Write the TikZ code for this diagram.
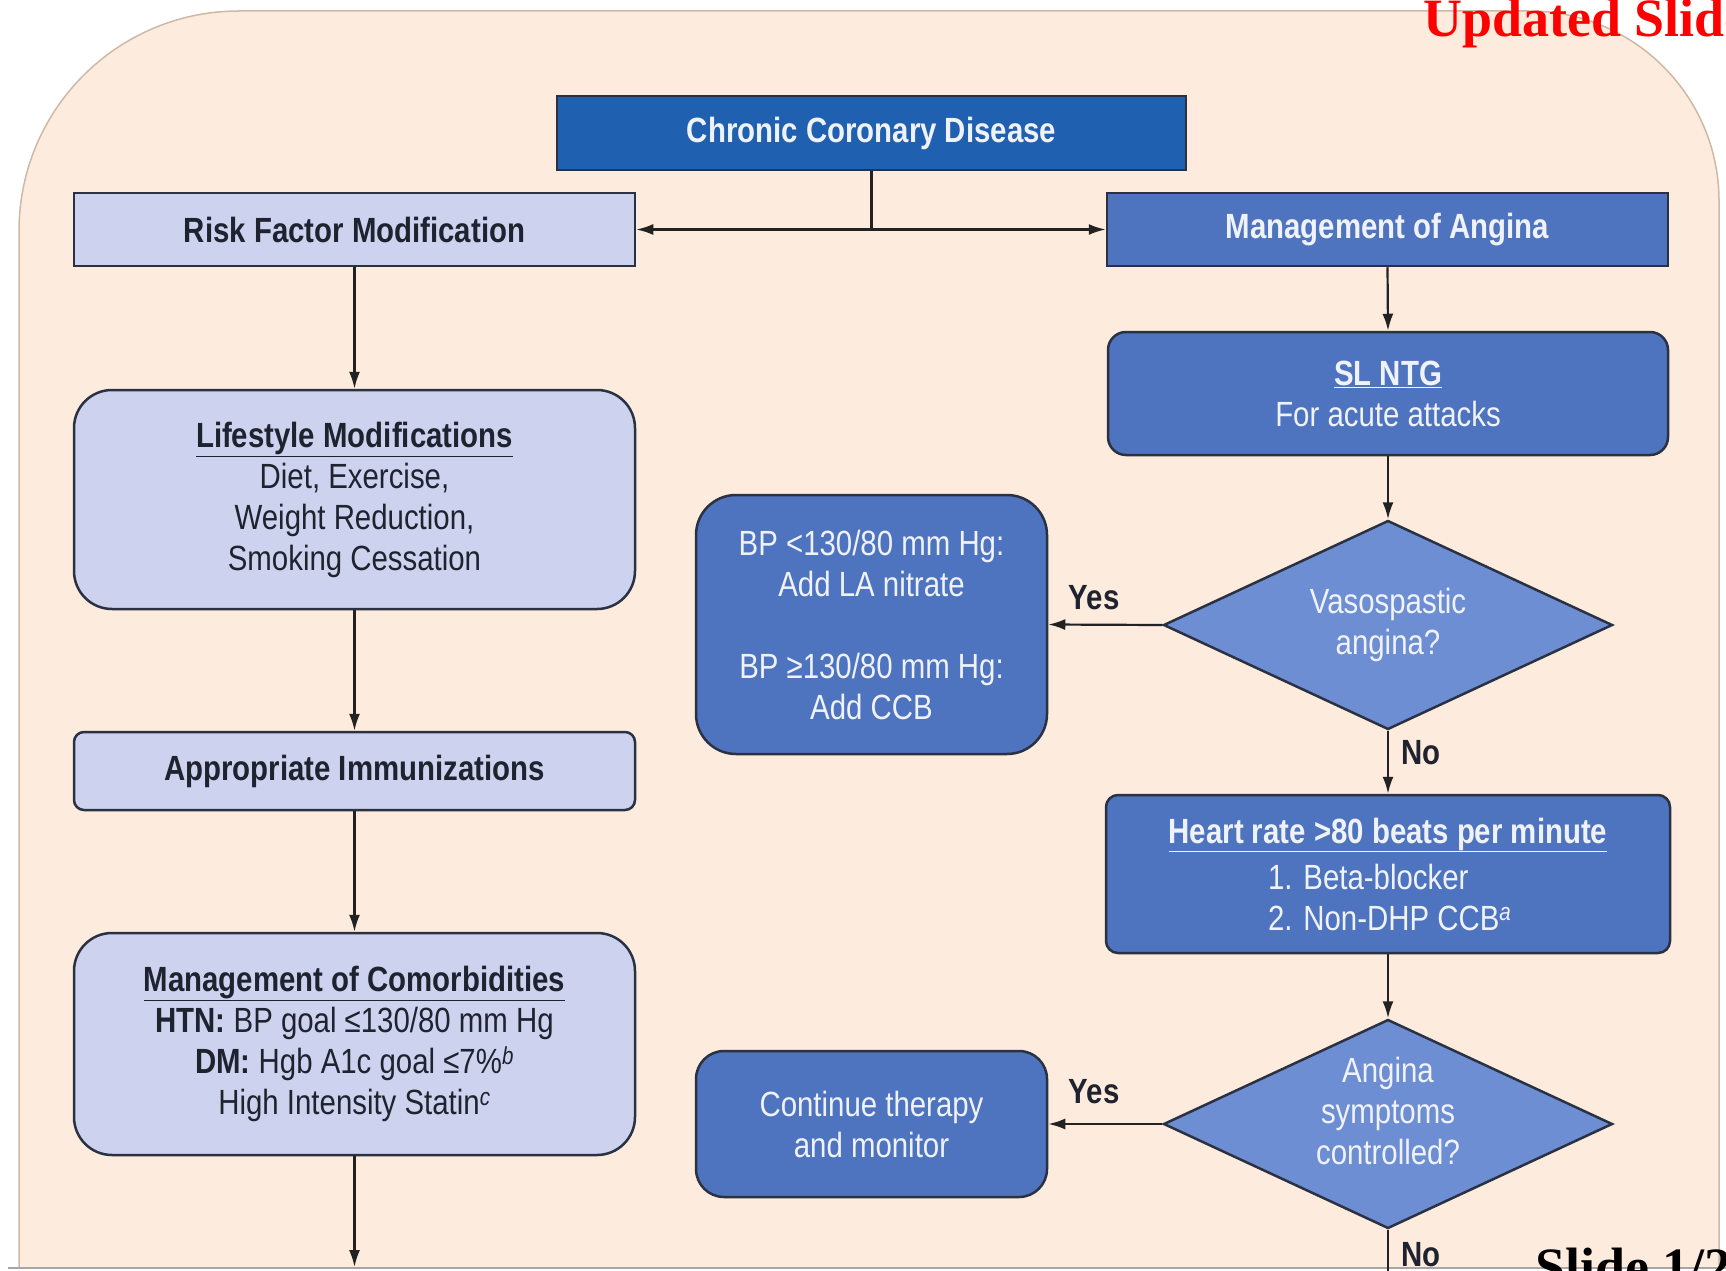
\documentclass[tikz,border=0pt]{standalone}
\usepackage{fontspec}
\setmainfont{Liberation Sans}[FakeStretch=0.84]
\newfontfamily\slidefont{Liberation Serif}
\usetikzlibrary{arrows.meta,shapes.geometric}

\definecolor{panelfill}{HTML}{FDEBDD}
\definecolor{panelline}{HTML}{CDB9A6}
\definecolor{lavfill}{HTML}{CDD3EE}
\definecolor{darkblue}{HTML}{2060B0}
\definecolor{medblue}{HTML}{4E74BF}
\definecolor{diafill}{HTML}{6D8ED2}
\definecolor{edgecol}{HTML}{2A3142}
\definecolor{darktext}{HTML}{1F2330}
\definecolor{lighttext}{HTML}{F0F2FA}
\definecolor{linecol}{HTML}{222222}

\tikzset{
  every node/.style={font=\fontsize{35}{41}\selectfont},
  basebox/.style={draw=edgecol, line width=2.5pt, inner sep=0pt, align=center},
  lavbox/.style={basebox, fill=lavfill, text=darktext},
  bluebox/.style={basebox, fill=medblue, text=lighttext},
  topbox/.style={basebox, fill=darkblue, text=lighttext},
  decision/.style={basebox, diamond, fill=diafill, text=lighttext, aspect=2.15,
    minimum width=449pt, minimum height=209pt},
  arr/.style={-{Latex[length=17pt,width=11pt]}, line width=2.2pt, draw=linecol},
  plain/.style={line width=2.2pt, draw=linecol},
  lbl/.style={text=darktext, font=\fontsize{35}{41}\selectfont\bfseries, inner sep=0pt},
}

\begin{document}
\begin{tikzpicture}[x=1pt, y=-1pt]
\useasboundingbox (0,0) rectangle (1726,1271);
\clip (0,0) rectangle (1726,1271);

% background panel with rounded top corners
\filldraw[fill=panelfill, draw=panelline, line width=1.5pt]
  (19,1268) -- (19,231) .. controls (19,109.5) and (117.5,11) .. (239,11)
  -- (1529,11) .. controls (1633.9,11) and (1719,96.1) .. (1719,201)
  -- (1719,1268);
\draw[black!35, line width=2pt] (8,1267.5) -- (1726,1267.5);

% top level
\node[topbox, minimum width=629pt, minimum height=74pt] (ccd) at (871.5,133)
  {\bfseries Chronic Coronary Disease};
\node[lavbox, minimum width=561pt, minimum height=73pt] (rfm) at (354.5,229.5)
  {\bfseries Risk Factor Modification};
\node[bluebox, minimum width=561pt, minimum height=73pt] (moa) at (1387.5,229.5)
  {\bfseries Management of Angina};

% left column
\node[lavbox, rounded corners=38pt, minimum width=561pt, minimum height=219pt] (life) at (354.5,499.5)
  {\underline{\bfseries Lifestyle Modifications}\\ Diet, Exercise,\\ Weight Reduction,\\ Smoking Cessation};
\node[lavbox, rounded corners=10pt, minimum width=561pt, minimum height=78pt] (imm) at (354.5,771)
  {\bfseries Appropriate Immunizations};
\node[lavbox, rounded corners=38pt, minimum width=561pt, minimum height=222pt] (comor) at (354.5,1044)
  {\underline{\bfseries Management of Comorbidities}\\
   \textbf{HTN:} BP goal ≤130/80 mm Hg\\
   \textbf{DM:} Hgb A1c goal ≤7\%\textsuperscript{\itshape b}\\
   High Intensity Statin\textsuperscript{\itshape c}};

% right column
\node[bluebox, rounded corners=18pt, minimum width=560pt, minimum height=123pt] (ntg) at (1388,393.5)
  {\underline{\bfseries SL NTG}\\ For acute attacks};
\node[decision] (vaso) at (1388,625) {Vasospastic\\ angina?};
\node[bluebox, rounded corners=40pt, minimum width=351pt, minimum height=259pt] (bp) at (871.5,624.5)
  {BP <130/80 mm Hg:\\ Add LA nitrate\\[41pt] BP ≥130/80 mm Hg:\\ Add CCB};
\node[bluebox, rounded corners=12pt, minimum width=564pt, minimum height=158pt] (hr) at (1388,874)
  {\underline{\bfseries Heart rate >80 beats per minute}\\[5pt]
   \makebox[240pt][l]{1. Beta-blocker}\\
   \makebox[240pt][l]{2. Non-DHP CCB\textsuperscript{\itshape a}}};
% the empty last line lifts the three text lines a little above the centre
\node[decision] (ctrl) at (1388,1124) {Angina\\ symptoms\\ controlled?\\[-15pt]\mbox{}};
\node[bluebox, rounded corners=28pt, minimum width=351pt, minimum height=146pt] (cont) at (871.5,1124)
  {Continue therapy\\ and monitor};

% connectors
\coordinate (split) at (ccd.south |- rfm.east);
\draw[plain] (ccd.south) -- (split);
\draw[arr] (split) -- (rfm.east);
\draw[arr] (split) -- (moa.west);

\draw[arr] (rfm.south) -- (life.north);
\draw[arr] (life.south) -- (imm.north);
\draw[arr] (imm.south) -- (comor.north);
\coordinate (leftend) at (354.5,1267);
\draw[arr] (comor.south) -- (leftend);

\draw[arr] (moa.south) -- (ntg.north);
\draw[arr] (ntg.south) -- (vaso.north);
\draw[arr] (vaso.west) -- (bp.east);
\draw[arr] (vaso.south) -- (hr.north);
\draw[arr] (hr.south) -- (ctrl.north);
\draw[arr] (ctrl.west) -- (cont.east);
\coordinate (rightend) at (1388,1271);
\draw[plain] (ctrl.south) -- (rightend);

% branch labels
\node[lbl] (yes1) at (1094,598) {Yes};
\node[lbl] (no1) at (1421,753) {No};
\node[lbl] (yes2) at (1094,1092) {Yes};
\node[lbl] (no2) at (1421,1255) {No};

% slide notes
\node[anchor=base west, inner sep=0pt, text=red, font=\slidefont\fontsize{54}{60}\selectfont\bfseries] (upd) at (1423,37) {Updated Slide};
\node[anchor=base west, inner sep=0pt, text=black, font=\slidefont\fontsize{54}{60}\selectfont\bfseries] (pg) at (1535,1285) {Slide 1/2};
\end{tikzpicture}
\end{document}
